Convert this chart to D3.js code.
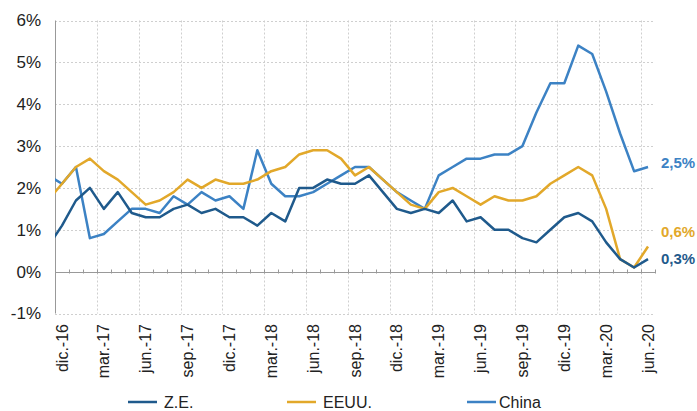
<!DOCTYPE html>
<html>
<head>
<meta charset="utf-8">
<script src="https://cdn.jsdelivr.net/npm/d3@7"></script>
<style>
  body { margin: 0; background: #fff; }
  text { font-family: "Liberation Sans", Arial, sans-serif; }
</style>
</head>
<body>
<script>
// months (nov.-16 is only there so the line runs in from the left edge)
var months = ["nov.-16","dic.-16","ene.-17","feb.-17","mar.-17","abr.-17","may.-17","jun.-17","jul.-17","ago.-17","sep.-17","oct.-17","nov.-17","dic.-17",
  "ene.-18","feb.-18","mar.-18","abr.-18","may.-18","jun.-18","jul.-18","ago.-18","sep.-18","oct.-18","nov.-18","dic.-18",
  "ene.-19","feb.-19","mar.-19","abr.-19","may.-19","jun.-19","jul.-19","ago.-19","sep.-19","oct.-19","nov.-19","dic.-19",
  "ene.-20","feb.-20","mar.-20","abr.-20","may.-20","jun.-20"];

var ze    = [0.6,1.1,1.7,2.0,1.5,1.9,1.4,1.3,1.3,1.5,1.6,1.4,1.5,1.3, 1.3,1.1,1.4,1.2,2.0,2.0,2.2,2.1,2.1,2.3,1.9,1.5, 1.4,1.5,1.4,1.7,1.2,1.3,1.0,1.0,0.8,0.7,1.0,1.3, 1.4,1.2,0.7,0.3,0.1,0.3];
var eeuu  = [1.7,2.1,2.5,2.7,2.4,2.2,1.9,1.6,1.7,1.9,2.2,2.0,2.2,2.1, 2.1,2.2,2.4,2.5,2.8,2.9,2.9,2.7,2.3,2.5,2.2,1.9, 1.6,1.5,1.9,2.0,1.8,1.6,1.8,1.7,1.7,1.8,2.1,2.3, 2.5,2.3,1.5,0.3,0.1,0.6];
var china = [2.3,2.1,2.5,0.8,0.9,1.2,1.5,1.5,1.4,1.8,1.6,1.9,1.7,1.8, 1.5,2.9,2.1,1.8,1.8,1.9,2.1,2.3,2.5,2.5,2.2,1.9, 1.7,1.5,2.3,2.5,2.7,2.7,2.8,2.8,3.0,3.8,4.5,4.5, 5.4,5.2,4.3,3.3,2.4,2.5];

var tickLabels = ["dic.-16","mar.-17","jun.-17","sep.-17","dic.-17","mar.-18","jun.-18","sep.-18","dic.-18","mar.-19","jun.-19","sep.-19","dic.-19","mar.-20","jun.-20"];
var yTicks = [-1,0,1,2,3,4,5,6];

var seriesNames = ["Z.E.","EEUU.","China"];
var endLabels = ["0,3%","0,6%","2,5%"];
var colors = ["#1f5a8c","#e2a82a","#3c82c4"];

var width = 697, height = 411;
var plotLeft = 55, plotRight = 655, plotTop = 20.5, plotBottom = 313.5;

var svg = d3.select("body").append("svg")
    .attr("width", width)
    .attr("height", height);

// index 0 = dic.-16, one band per month
var x = d3.scaleLinear().domain([-0.5, 42.5]).range([plotLeft, plotRight]);
var y = d3.scaleLinear().domain([-1, 6]).range([plotBottom, plotTop]);

function idx(m) { return months.indexOf(m) - 1; }

// horizontal gridlines
svg.append("g").selectAll("line")
  .data(yTicks.filter(function(d){ return d !== 0; }))
  .enter().append("line")
    .attr("x1", plotLeft).attr("x2", plotRight)
    .attr("y1", function(d){ return Math.round(y(d)) + 0.5; })
    .attr("y2", function(d){ return Math.round(y(d)) + 0.5; })
    .style("stroke", "#cfcfcf")
    .style("stroke-dasharray", "2,2");

// vertical gridlines at the labelled months
svg.append("g").selectAll("line")
  .data(tickLabels.slice(1))
  .enter().append("line")
    .attr("x1", function(d){ return Math.round(x(idx(d) - 0.5)) + 0.5; })
    .attr("x2", function(d){ return Math.round(x(idx(d) - 0.5)) + 0.5; })
    .attr("y1", plotTop).attr("y2", plotBottom)
    .style("stroke", "#cfcfcf")
    .style("stroke-dasharray", "2,2");

// y axis
svg.append("line")
    .attr("x1", plotLeft + 0.5).attr("x2", plotLeft + 0.5)
    .attr("y1", plotTop).attr("y2", plotBottom)
    .style("stroke", "#999");

svg.append("g").selectAll("text")
  .data(yTicks)
  .enter().append("text")
    .attr("x", 41)
    .attr("y", function(d){ return y(d); })
    .attr("dy", "0.35em")
    .attr("text-anchor", "end")
    .style("font-size", "17px")
    .style("fill", "#222")
    .text(function(d){ return d + "%"; });

// zero line with month ticks
var y0 = Math.round(y(0)) + 0.5;
svg.append("line")
    .attr("x1", plotLeft).attr("x2", plotRight)
    .attr("y1", y0).attr("y2", y0)
    .style("stroke", "#999");

svg.append("g").selectAll("line")
  .data(d3.range(1, 44))
  .enter().append("line")
    .attr("x1", function(d){ return Math.round(x(d - 0.5)) + 0.5; })
    .attr("x2", function(d){ return Math.round(x(d - 0.5)) + 0.5; })
    .attr("y1", y0 - 3).attr("y2", y0 + 1)
    .style("stroke", "#999");

// x labels
svg.append("g").selectAll("text")
  .data(tickLabels)
  .enter().append("text")
    .attr("transform", function(d){ return "translate(" + x(idx(d)) + ",324) rotate(-90)"; })
    .attr("dy", "0.35em")
    .attr("text-anchor", "end")
    .style("font-size", "16px")
    .style("fill", "#222")
    .text(function(d){ return d; });

// lines
svg.append("clipPath").attr("id", "plot")
  .append("rect")
    .attr("x", plotLeft).attr("y", 0)
    .attr("width", plotRight - plotLeft).attr("height", height);

var line = d3.line()
    .x(function(d, i){ return x(i - 1); })
    .y(function(d){ return y(d); });

svg.append("g").attr("clip-path", "url(#plot)")
  .selectAll("path")
  .data([china, eeuu, ze])
  .enter().append("path")
    .attr("d", line)
    .style("fill", "none")
    .style("stroke", function(d, i){ return colors[2 - i]; })
    .style("stroke-width", 2.5)
    .style("stroke-linejoin", "round");

// end labels
var labelShift = [0, 0.35, 0.1];
var series = [ze, eeuu, china];
svg.append("g").selectAll("text")
  .data(series)
  .enter().append("text")
    .attr("x", 661)
    .attr("y", function(d, i){ return y(d[d.length - 1] + labelShift[i]); })
    .attr("dy", "0.35em")
    .style("font-size", "15px")
    .style("font-weight", "bold")
    .style("fill", function(d, i){ return colors[i]; })
    .text(function(d, i){ return endLabels[i]; });

// legend
var legendX = [128, 287, 467];
var legend = svg.append("g").selectAll("g")
  .data(seriesNames)
  .enter().append("g")
    .attr("transform", function(d, i){ return "translate(" + legendX[i] + ",402)"; });

legend.append("line")
    .attr("x1", 0).attr("x2", 29)
    .style("stroke", function(d, i){ return colors[i]; })
    .style("stroke-width", 2.5);

legend.append("text")
    .attr("x", function(d, i){ return i === 2 ? 32 : 36; })
    .attr("dy", "0.35em")
    .style("font-size", "16px")
    .style("fill", "#222")
    .text(function(d){ return d; });
</script>
</body>
</html>
